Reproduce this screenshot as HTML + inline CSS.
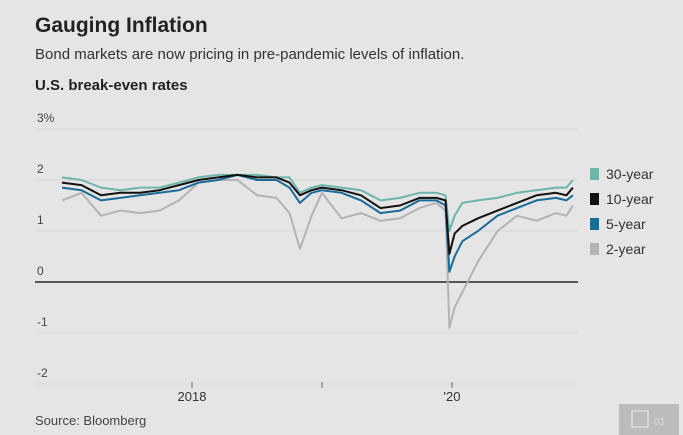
<!DOCTYPE html>
<html><head><meta charset="utf-8"><style>
body{margin:0;width:683px;height:435px;background:#e5e5e5;font-family:"Liberation Sans",sans-serif;overflow:hidden;position:relative}
.t{position:absolute;left:35px;top:14px;font-size:21px;font-weight:bold;color:#222}
.s{position:absolute;left:35px;top:46px;font-size:15px;color:#333}
.h{position:absolute;left:35px;top:77px;font-size:15px;font-weight:bold;color:#222}
.src{position:absolute;left:35px;top:413px;font-size:13px;color:#444}
svg{position:absolute;left:0;top:0}
</style></head><body>
<div class="t">Gauging Inflation</div>
<div class="s">Bond markets are now pricing in pre-pandemic levels of inflation.</div>
<div class="h">U.S. break-even rates</div>
<div class="src">Source: Bloomberg</div>
<svg id="c" width="683" height="435"></svg>
<script>
const dates=[2017.0,2017.15,2017.3,2017.45,2017.6,2017.75,2017.9,2018.05,2018.2,2018.35,2018.5,2018.65,2018.75,2018.83,2018.92,2019.0,2019.15,2019.3,2019.45,2019.6,2019.75,2019.88,2019.95,2019.98,2020.02,2020.08,2020.2,2020.35,2020.5,2020.65,2020.8,2020.88,2020.93];
const y2=[1.6,1.75,1.3,1.4,1.35,1.4,1.6,1.95,2.0,2.0,1.7,1.65,1.35,0.65,1.3,1.75,1.25,1.35,1.2,1.25,1.45,1.55,1.4,-0.9,-0.5,-0.2,0.4,1.0,1.3,1.2,1.35,1.3,1.5];
const y5=[1.85,1.8,1.6,1.65,1.7,1.75,1.8,1.95,2.0,2.1,2.0,2.0,1.85,1.55,1.75,1.8,1.75,1.6,1.35,1.4,1.6,1.6,1.5,0.2,0.5,0.8,1.0,1.3,1.45,1.6,1.65,1.6,1.7];
const y10=[1.95,1.9,1.7,1.75,1.75,1.8,1.9,2.0,2.05,2.1,2.05,2.05,1.95,1.7,1.8,1.85,1.8,1.7,1.45,1.5,1.65,1.65,1.6,0.55,0.95,1.1,1.25,1.4,1.55,1.7,1.75,1.7,1.85];
const y30=[2.05,2.0,1.85,1.8,1.85,1.85,1.95,2.05,2.1,2.1,2.1,2.05,2.05,1.75,1.85,1.9,1.85,1.8,1.6,1.65,1.75,1.75,1.7,1.0,1.3,1.55,1.6,1.65,1.75,1.8,1.85,1.85,2.0];
const yTicks=[3,2,1,0,-1,-2];
const yTickLabels=["3%","2","1","0","-1","-2"];
const xTicks=[2018,2019,2020];
const xTickLabels=["2018","","'20"];
const X=d=>192+(d-2018)*130;
const Y=v=>282-v*51;
const svg=document.getElementById('c');const NS='http://www.w3.org/2000/svg';
function mk(t,a){const e=document.createElementNS(NS,t);for(const k in a)e.setAttribute(k,a[k]);svg.appendChild(e);return e;}
yTicks.forEach((v,i)=>{
 const l=mk('line',{x1:35,x2:578,y1:Y(v),y2:Y(v),stroke:v===0?'#555':'#d8d8d8','stroke-width':v===0?2:1});
 
 
 const t=mk('text',{x:37,y:Y(v)-7,'font-size':12,fill:'#444'});t.textContent=yTickLabels[i];
 
 
});
xTicks.forEach((d,i)=>{
 const l=mk('line',{x1:X(d),x2:X(d),y1:382,y2:388,stroke:'#666'});
 
 
 const t=mk('text',{x:X(d),y:401,'font-size':13,fill:'#333','text-anchor':'middle'});t.textContent=xTickLabels[i];
 
 
});
const series=[[y2,'#b3b3b3','series-2-year'],[y5,'#1b6b98','series-5-year'],[y30,'#6db5aa','series-30-year'],[y10,'#111','series-10-year']];
series.forEach(([vals,col,name])=>{
 const p=mk('polyline',{points:vals.map((v,i)=>X(dates[i]).toFixed(1)+','+Y(v).toFixed(1)).join(' '),fill:'none',stroke:col,'stroke-width':2,'stroke-linejoin':'round'});
 
 
});
const leg=[['30-year','#6db5aa'],['10-year','#111'],['5-year','#1b6b98'],['2-year','#b3b3b3']];
leg.forEach(([n,c],i)=>{
 const yy=168+i*25;
 const r=mk('rect',{x:590,y:yy,width:9,height:12,fill:c});
 
 
 const t=mk('text',{x:606,y:yy+11,'font-size':14,fill:'#333'});t.textContent=n;
 
 
});
const b=mk('rect',{x:619,y:404,width:60,height:31,fill:'#bcbcbc'});


mk('rect',{x:632,y:411,width:16,height:16,fill:'none',stroke:'#ddd','stroke-width':1.5});
const bt=mk('text',{x:654,y:425,'font-size':10,fill:'#ddd'});bt.textContent='01';


</script>
</body></html>
